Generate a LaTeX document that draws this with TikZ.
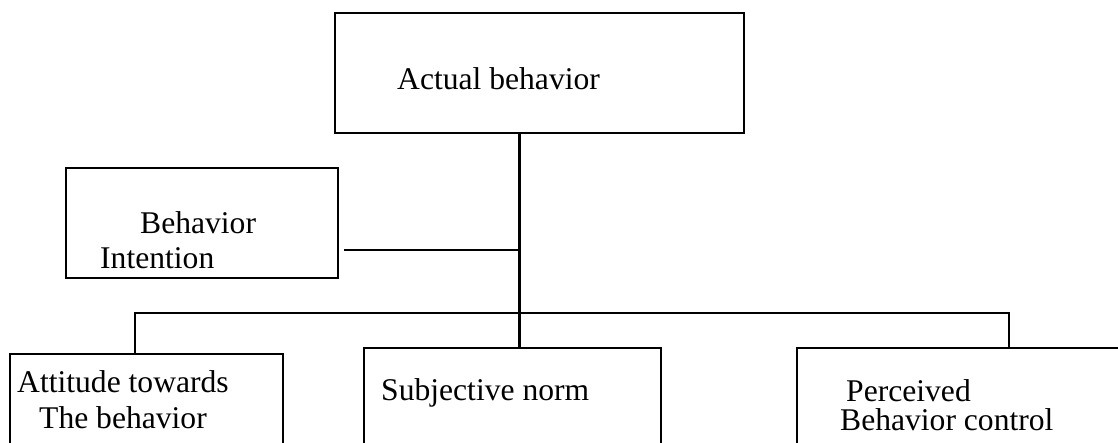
\documentclass[tikz,border=0pt]{standalone}
\usepackage{fontspec}
\setmainfont{Liberation Serif}
\begin{document}
\begin{tikzpicture}[x=1pt,y=-1pt,
  box/.style={draw=black,line width=2.5pt,rectangle,inner sep=0pt},
  txt/.style={anchor=base west,inner sep=0pt,font=\fontsize{31.6}{36}\selectfont},
  conn/.style={draw=black,line width=2.5pt}]
\clip (0,0) rectangle (1118,442);
\fill[white] (0,0) rectangle (1118,442);
% boxes
\node[box,minimum width=409pt,minimum height=120pt] (actual) at (539.5,73) {};
\node[box,minimum width=272pt,minimum height=110pt] (intent) at (202,223) {};
\node[box,minimum width=273pt,minimum height=116pt] (att) at (146.5,412) {};
\node[box,minimum width=297pt,minimum height=122pt] (subj) at (512.5,409) {};
\node[box,minimum width=333pt,minimum height=122pt] (perc) at (963.5,409) {};
% texts
\node[txt] (tact) at (397,89) {Actual behavior};
\node[txt] (tint1) at (140,233) {Behavior};
\node[txt] (tint2) at (100,268) {Intention};
\node[txt] (tatt1) at (17,392) {Attitude towards};
\node[txt] (tatt2) at (39,428) {The behavior};
\node[txt] (tsub) at (381,400) {Subjective norm};
\node[txt] (tper1) at (846,401) {Perceived};
\node[txt] (tper2) at (840,430) {Behavior control};
% junctions
\coordinate (j1) at (519.5,250);
\coordinate (d1) at (135,313);
\coordinate (d2) at (1009,313);
% connectors
\draw[conn] (actual.south -| j1) -- (subj.north -| j1);
\draw[conn] ([xshift=5pt]intent.east |- j1) -- (j1);
\draw[conn] (att.north -| d1) -- (d1) -- (d2) -- (perc.north -| d2);
\end{tikzpicture}
\end{document}
